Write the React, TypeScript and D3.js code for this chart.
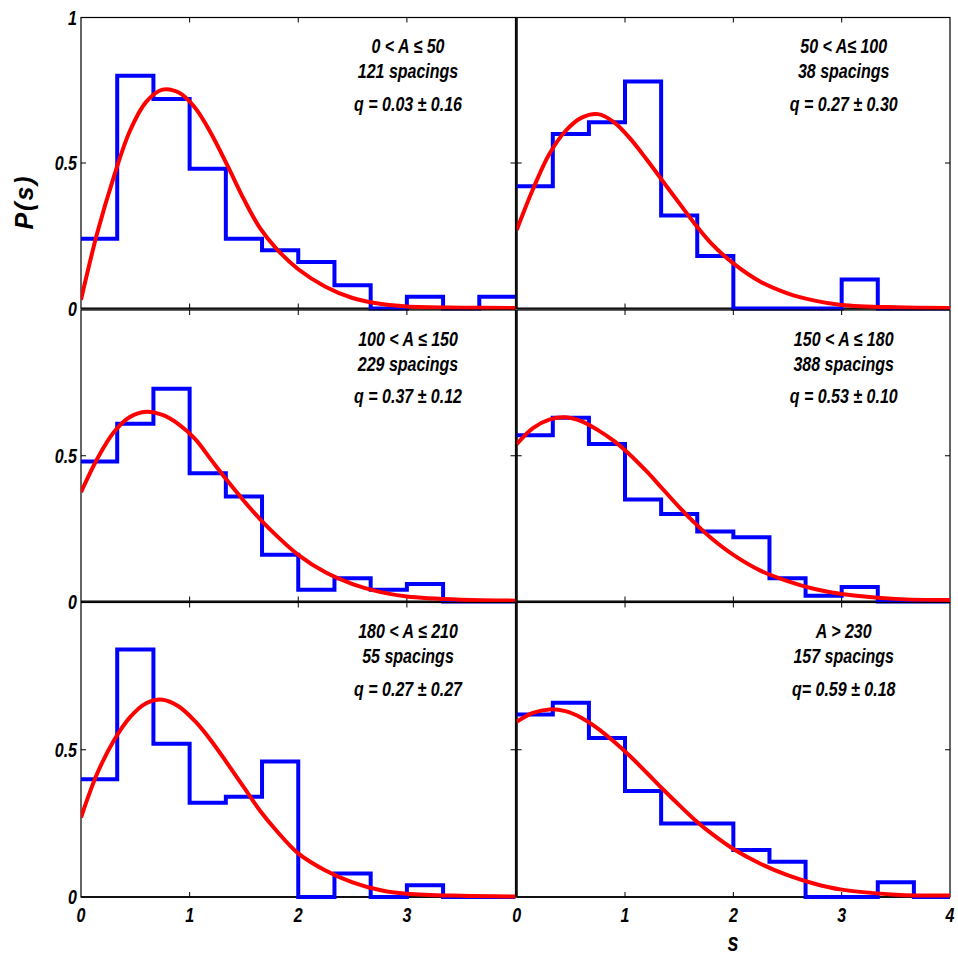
import React from "react";
import * as d3 from "d3";

// ---- data ----
const binEdges = [0, 1 / 3, 2 / 3, 1, 4 / 3, 5 / 3, 2, 7 / 3, 8 / 3, 3, 10 / 3, 11 / 3, 4];

const hist1 = [0.24, 0.8, 0.72, 0.48, 0.24, 0.2, 0.16, 0.08, 0, 0.04, 0, 0.04];
const hist2 = [0.42, 0.6, 0.64, 0.78, 0.32, 0.18, 0, 0, 0, 0.1, 0, 0];
const hist3 = [0.48, 0.61, 0.73, 0.44, 0.36, 0.16, 0.04, 0.08, 0.04, 0.06, 0, 0];
const hist4 = [0.57, 0.63, 0.54, 0.35, 0.3, 0.24, 0.22, 0.08, 0.02, 0.05, 0, 0];
const hist5 = [0.4, 0.84, 0.52, 0.32, 0.34, 0.46, 0, 0.08, 0, 0.04, 0, 0];
const hist6 = [0.62, 0.66, 0.54, 0.36, 0.25, 0.25, 0.16, 0.12, 0, 0, 0.05, 0];

const curveS = [0, 0.15, 0.3, 0.45, 0.6, 0.75, 0.9, 1.05, 1.2, 1.35, 1.5, 1.65, 1.8, 2.0, 2.25, 2.5, 2.75, 3.0, 3.5, 4.0];
const fit1 = [0.03, 0.26, 0.45, 0.61, 0.71, 0.752, 0.742, 0.69, 0.6, 0.49, 0.375, 0.275, 0.205, 0.135, 0.075, 0.036, 0.016, 0.007, 0.003, 0.002];
const fit2 = [0.27, 0.41, 0.53, 0.61, 0.656, 0.668, 0.64, 0.583, 0.512, 0.437, 0.362, 0.288, 0.222, 0.155, 0.092, 0.052, 0.027, 0.012, 0.004, 0.002];
const fit3 = [0.375, 0.49, 0.58, 0.633, 0.651, 0.64, 0.608, 0.558, 0.485, 0.413, 0.345, 0.282, 0.226, 0.16, 0.1, 0.06, 0.033, 0.017, 0.006, 0.003];
const fit4 = [0.54, 0.595, 0.624, 0.632, 0.618, 0.588, 0.55, 0.502, 0.446, 0.385, 0.324, 0.267, 0.216, 0.16, 0.106, 0.07, 0.043, 0.026, 0.009, 0.005];
const fit5 = [0.27, 0.42, 0.53, 0.61, 0.658, 0.67, 0.647, 0.597, 0.53, 0.452, 0.372, 0.292, 0.225, 0.148, 0.09, 0.05, 0.024, 0.011, 0.004, 0.002];
const fit6 = [0.595, 0.625, 0.637, 0.631, 0.608, 0.572, 0.527, 0.477, 0.422, 0.366, 0.312, 0.26, 0.215, 0.163, 0.113, 0.074, 0.045, 0.025, 0.008, 0.005];

const rangeLabels = ["0 < A \u2264 50", "50 < A\u2264 100", "100 < A \u2264 150", "150 < A \u2264 180", "180 < A \u2264 210", "A > 230"];
const spacingLabels = ["121 spacings", "38 spacings", "229 spacings", "388 spacings", "55 spacings", "157 spacings"];
const qLabels = ["q = 0.03 \u00b1 0.16", "q = 0.27 \u00b1 0.30", "q = 0.37 \u00b1 0.12", "q = 0.53 \u00b1 0.10", "q = 0.27 \u00b1 0.27", "q= 0.59 \u00b1 0.18"];

const xTicks = [0, 1, 2, 3, 4];
const yTicks = [0, 0.5, 1];

const hists = [hist1, hist2, hist3, hist4, hist5, hist6];
const fits = [fit1, fit2, fit3, fit4, fit5, fit6];

// ---- layout ----
const W = 958;
const H = 957;
const cols = [
  [81, 515.5],
  [516.7, 950],
];
const rows = [
  [17.5, 308.5],
  [310, 601.5],
  [602.5, 897],
];
const FONT = "'Liberation Sans', Arial, sans-serif";
const SX = 0.8;

function CText({ x, y, anchor, size, children }: any) {
  return (
    <text
      transform={`translate(${x},${y}) scale(${SX},1)`}
      textAnchor={anchor}
      fontFamily={FONT}
      fontWeight="bold"
      fontStyle="italic"
      fontSize={size}
      fill="#000"
    >
      {children}
    </text>
  );
}

function Panel({ idx }: { idx: number }) {
  const r = Math.floor(idx / 2);
  const c = idx % 2;
  const [x0, x1] = cols[c];
  const [top, bottom] = rows[r];
  const xs = d3.scaleLinear().domain([0, 4]).range([x0, x1]);
  const ys = d3.scaleLinear().domain([0, 1]).range([bottom, top]);
  const h = hists[idx];
  const stepPts: [number, number][] = h.map((v, i) => [binEdges[i], v]);
  stepPts.push([4, h[h.length - 1]]);
  const stepLine = d3
    .line<[number, number]>()
    .x((d) => xs(d[0]))
    .y((d) => ys(d[1]))
    .curve(d3.curveStepAfter);
  const fitPts: [number, number][] = curveS.map((s, i) => [s, fits[idx][i]]);
  const fitLine = d3
    .line<[number, number]>()
    .x((d) => xs(d[0]))
    .y((d) => ys(d[1]))
    .curve(d3.curveCatmullRom.alpha(0.5));
  const clipId = `clip${idx}`;
  const cx = x0 + 327;
  const tickLen = 5;
  return (
    <g>
      <defs>
        <clipPath id={clipId}>
          <rect x={x0} y={top - 3} width={x1 - x0} height={bottom - top + 6} />
        </clipPath>
      </defs>
      <rect x={x0} y={top} width={x1 - x0} height={bottom - top} fill="none" stroke="#000" strokeWidth={1.2} />
      <line x1={x0} x2={x1} y1={bottom} y2={bottom} stroke="#111" strokeWidth={2} />
      {c === 1 && <line x1={x0} x2={x0} y1={top} y2={bottom} stroke="#111" strokeWidth={2} />}
      {[1, 2, 3].map((t) => (
        <g key={t}>
          <line x1={xs(t)} x2={xs(t)} y1={bottom} y2={bottom - tickLen} stroke="#000" strokeWidth={1} />
          <line x1={xs(t)} x2={xs(t)} y1={top} y2={top + tickLen} stroke="#000" strokeWidth={1} />
        </g>
      ))}
      <line x1={x0} x2={x0 + tickLen} y1={ys(0.5)} y2={ys(0.5)} stroke="#000" strokeWidth={1} />
      <line x1={x1} x2={x1 - tickLen} y1={ys(0.5)} y2={ys(0.5)} stroke="#000" strokeWidth={1} />
      <g clipPath={`url(#${clipId})`}>
        <path d={stepLine(stepPts) || ""} fill="none" stroke="#0000ff" strokeWidth={4} strokeLinejoin="miter" />
        <path d={fitLine(fitPts) || ""} fill="none" stroke="#ff0000" strokeWidth={4} strokeLinejoin="round" />
      </g>
      <CText x={cx} y={top + 35.5} anchor="middle" size={20}>{rangeLabels[idx]}</CText>
      <CText x={cx} y={top + 60.5} anchor="middle" size={20}>{spacingLabels[idx]}</CText>
      <CText x={cx} y={top + 93} anchor="middle" size={20}>{qLabels[idx]}</CText>
      {c === 0 &&
        yTicks
          .filter((t) => t < 1 || r === 0)
          .map((t) => (
            <CText key={t} x={x0 - 4} y={ys(t) + 7} anchor="end" size={20}>
              {String(t)}
            </CText>
          ))}
      {r === 2 &&
        xTicks
          .filter((t) => t < 4 || c === 1)
          .map((t) => (
            <CText key={t} x={xs(t)} y={922} anchor="middle" size={20}>
              {String(t)}
            </CText>
          ))}
    </g>
  );
}

export default function App() {
  return (
    <svg width={W} height={H} style={{ display: "block", position: "absolute", left: 0, top: 0 }}>
      <rect width={W} height={H} fill="#fff" />
      {[0, 1, 2, 3, 4, 5].map((i) => (
        <Panel key={i} idx={i} />
      ))}
      <text
        transform="translate(33,202) rotate(-90)"
        textAnchor="middle"
        fontFamily={FONT}
        fontWeight="bold"
        fontStyle="italic"
        fontSize={25}
        letterSpacing={2}
        fill="#000"
      >
        P(s)
      </text>
      <CText x={733} y={951} anchor="middle" size={25}>s</CText>
    </svg>
  );
}
